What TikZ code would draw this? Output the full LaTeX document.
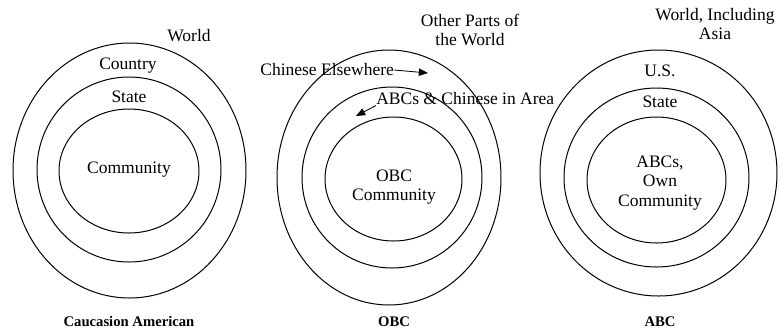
\documentclass[tikz,border=0pt]{standalone}
\usepackage{fontspec}
\setmainfont{Liberation Serif}
\usetikzlibrary{arrows.meta, positioning, shapes.geometric}

\begin{document}
\begin{tikzpicture}[
    x=0.6pt, y=-0.6pt,
    ring/.style={draw, line width=0.6pt},
    lbl/.style={font=\fontsize{10.5}{11.6}\selectfont, inner sep=0pt, align=center},
    caption/.style={font=\fontsize{8.8}{10}\selectfont\bfseries, inner sep=0pt},
    arr/.style={-{Triangle[length=5.5pt, width=4.4pt]}, line width=0.5pt}
]
    \useasboundingbox (0,0) rectangle (780,333);

    % Caucasion American
    \draw[ring] (129.5,170.5) ellipse [x radius=116.5, y radius=127.5];
    \draw[ring] (129,169.5) ellipse [x radius=92, y radius=92.5];
    \draw[ring] (129,171) ellipse [x radius=70, y radius=62];
    \node[lbl] (caWorld) at (189,36) {World};
    \node[lbl] (caCountry) at (128,66) {Country};
    \node[lbl] (caState) at (129,97) {State};
    \node[lbl] (caComm) at (129,170) {Community};
    \node[caption] (caCap) at (129,321) {Caucasion American};

    % OBC
    \draw[ring] (389,177.5) ellipse [x radius=112, y radius=127.5];
    \draw[ring] (392,177.5) ellipse [x radius=90, y radius=90.5];
    \draw[ring] (393.5,179) ellipse [x radius=68.5, y radius=62];
    \node[lbl] (obcOther) at (470,30) {Other Parts of\\the World};
    \node[lbl, anchor=west] (obcElse) at (260,70) {Chinese Elsewhere};
    \node[lbl, anchor=west] (obcArea) at (376,99) {ABCs \& Chinese in Area};
    \node[lbl] (obcComm) at (394,187) {OBC\\Community};
    \node[caption] (obcCap) at (394,322) {OBC};
    \coordinate (obcElseTip) at (428,73);
    \coordinate (obcAreaTip) at (356,116);
    \draw[arr] (obcElse.east) -- (obcElseTip);
    \draw[arr] (obcArea.south west) -- (obcAreaTip);

    % ABC
    \draw[ring] (658.5,173) ellipse [x radius=118.5, y radius=123];
    \draw[ring] (656.5,177.5) ellipse [x radius=92.5, y radius=89.5];
    \draw[ring] (656.5,180) ellipse [x radius=69.5, y radius=63];
    \node[lbl] (abcWorld) at (715,24) {World, Including\\Asia};
    \node[lbl] (abcUS) at (660,71) {U.S.};
    \node[lbl] (abcState) at (660,102) {State};
    \node[lbl] (abcComm) at (660,183) {ABCs,\\Own\\Community};
    \node[caption] (abcCap) at (660,322) {ABC};
\end{tikzpicture}
\end{document}
